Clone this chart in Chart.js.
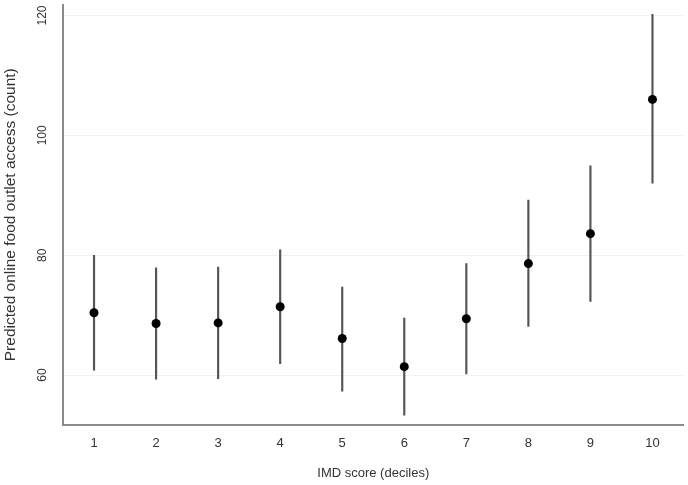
<!DOCTYPE html>
<html>
<head>
<meta charset="utf-8">
<script src="https://cdn.jsdelivr.net/npm/chart.js@4/dist/chart.umd.min.js"></script>
<style>
  html, body { margin: 0; padding: 0; background: #ffffff; }
  #wrap { width: 688px; height: 485px; position: relative; }
</style>
</head>
<body>
<div id="wrap"><canvas id="c" width="688" height="485"></canvas></div>
<script>
// Data
const categories = ['1', '2', '3', '4', '5', '6', '7', '8', '9', '10'];
const predicted  = [70.4, 68.6, 68.7, 71.4, 66.1, 61.4, 69.4, 78.6, 83.6, 106.0];
const lowerCI    = [60.8, 59.3, 59.4, 61.9, 57.3, 53.3, 60.2, 68.1, 72.3, 92.0];
const upperCI    = [80.0, 77.9, 78.0, 80.9, 74.7, 69.5, 78.6, 89.2, 94.9, 120.2];
const yTickValues = [60, 80, 100, 120];

const ciRanges = categories.map((c, i) => [lowerCI[i], upperCI[i]]);

const FONT = '"Liberation Sans", Arial, sans-serif';
const TEXT = '#333333';

// Draws the y tick labels rotated (reading bottom to top), positioned by the y scale
const rotatedYTicks = {
  id: 'rotatedYTicks',
  afterDraw(chart) {
    const scale = chart.scales.y;
    const ctx = chart.ctx;
    ctx.save();
    ctx.fillStyle = TEXT;
    ctx.font = '12px ' + FONT;
    ctx.textAlign = 'center';
    ctx.textBaseline = 'middle';
    scale.ticks.forEach(t => {
      const y = scale.getPixelForValue(t.value);
      ctx.save();
      ctx.translate(scale.right - 20, y);
      ctx.rotate(-Math.PI / 2);
      ctx.fillText(String(t.value), 0, 0);
      ctx.restore();
    });
    ctx.restore();
  }
};

new Chart(document.getElementById('c'), {
  type: 'bar',
  data: {
    labels: categories,
    datasets: [
      {
        type: 'line',
        label: 'Predicted',
        data: predicted,
        showLine: false,
        pointRadius: 4.5,
        pointHoverRadius: 4.5,
        pointBackgroundColor: '#000000',
        pointBorderColor: '#000000',
        pointBorderWidth: 0,
        order: 0
      },
      {
        type: 'bar',
        label: '95% CI',
        data: ciRanges,
        backgroundColor: '#555555',
        borderWidth: 0,
        barThickness: 1.5,
        grouped: false,
        order: 1
      }
    ]
  },
  options: {
    responsive: false,
    animation: false,
    devicePixelRatio: 1,
    layout: { padding: { left: 0, right: 3, top: 0, bottom: 0 } },
    plugins: {
      legend: { display: false },
      tooltip: { enabled: false }
    },
    scales: {
      x: {
        offset: true,
        grid: { display: false, drawTicks: false },
        border: { display: true, color: '#8a8a8a', width: 2 },
        ticks: { color: TEXT, font: { family: FONT, size: 13 }, padding: 11, maxRotation: 0 },
        title: {
          display: true, text: 'IMD score (deciles)', color: TEXT,
          font: { family: FONT, size: 13 }, padding: { top: 0, bottom: 4 }
        },
        afterFit: (s) => { s.height = 60; }
      },
      y: {
        min: 51.67,
        max: 121.83,
        afterBuildTicks: (axis) => { axis.ticks = yTickValues.map(v => ({ value: v })); },
        grid: { color: '#edf3f3', lineWidth: 1, drawTicks: false },
        border: { display: true, color: '#8a8a8a', width: 2 },
        ticks: { display: false },
        title: {
          display: true, text: 'Predicted online food outlet access (count)', color: TEXT,
          font: { family: FONT, size: 15.5 }, padding: { top: 1, bottom: 0 }
        },
        afterFit: (s) => { s.width = 63; }
      }
    }
  },
  plugins: [rotatedYTicks]
});
</script>
</body>
</html>
